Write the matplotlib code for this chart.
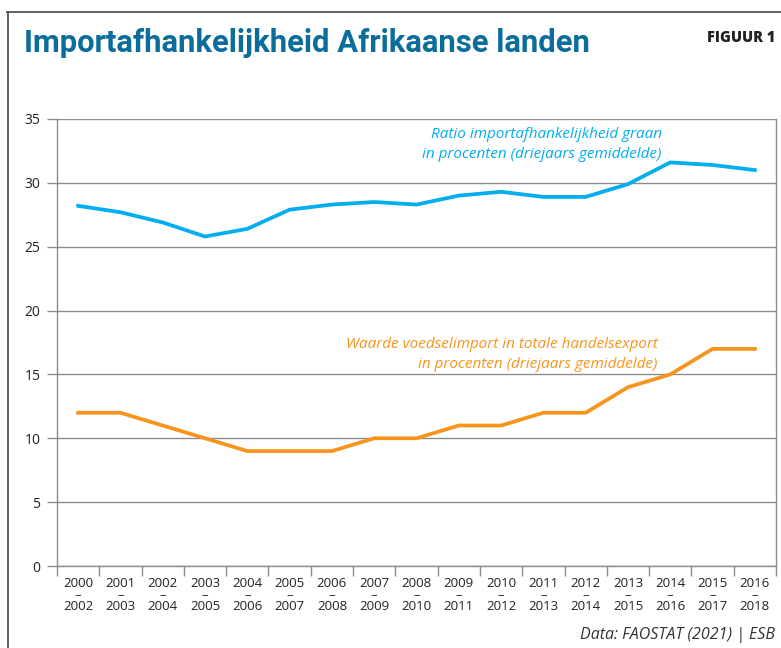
import matplotlib
matplotlib.use("Agg")
import matplotlib.pyplot as plt
from matplotlib.lines import Line2D

periods = ["2000\n–\n2002", "2001\n–\n2003", "2002\n–\n2004", "2003\n–\n2005", "2004\n–\n2006",
           "2005\n–\n2007", "2006\n–\n2008", "2007\n–\n2009", "2008\n–\n2010", "2009\n–\n2011",
           "2010\n–\n2012", "2011\n–\n2013", "2012\n–\n2014", "2013\n–\n2015", "2014\n–\n2016",
           "2015\n–\n2017", "2016\n–\n2018"]
graan = [28.2, 27.7, 26.9, 25.8, 26.4, 27.9, 28.3, 28.5, 28.3, 29.0, 29.3, 28.9, 28.9, 29.9, 31.6, 31.4, 31.0]
voedsel = [12, 12, 11, 10, 9, 9, 9, 10, 10, 11, 11, 12, 12, 14, 15, 17, 17]
yticks = [0, 5, 10, 15, 20, 25, 30, 35]

BLUE = "#00aeef"
ORANGE = "#f7941d"
TITLE = "#0a6d9c"
GRID = "#8c8c8c"

plt.rcParams['font.family'] = ['Open Sans', 'DejaVu Sans']

W, H = 781, 648
fig = plt.figure(figsize=(W/100, H/100), dpi=100)
ax = fig.add_axes([57/W, 1-566/H, (776-57)/W, (566-119)/H])

x = list(range(len(periods)))
ax.plot(x, graan, color=BLUE, lw=2.7, solid_joinstyle='miter', zorder=3)
ax.plot(x, voedsel, color=ORANGE, lw=2.7, solid_joinstyle='miter', zorder=3)

ax.set_xlim(-0.5, len(periods)-0.5)
ax.set_ylim(0, 35)
ax.set_yticks(yticks)
ax.set_yticklabels([str(v) for v in yticks], fontsize=10, color="#222222")
ax.yaxis.grid(True, color=GRID, lw=1)
ax.set_axisbelow(True)
ax.tick_params(axis='y', length=7, width=1, color=GRID, pad=5)

ax.set_xticks([i + 0.5 for i in range(-1, len(periods))])
ax.set_xticklabels([])
ax.tick_params(axis='x', length=7, width=1, color=GRID, direction='out')
ax.set_xticks(x, minor=True)
ax.set_xticklabels(periods, minor=True, fontsize=9.5, color="#222222", linespacing=0.85)
ax.tick_params(axis='x', which='minor', length=0, pad=8)

ax.spines['top'].set_visible(False)
for s in ['left', 'right', 'bottom']:
    ax.spines[s].set_color(GRID)
    ax.spines[s].set_linewidth(1)

ax.text(16.0 - 2.2, 33.0, "Ratio importafhankelijkheid graan\nin procenten (driejaars gemiddelde)",
        color=BLUE, fontsize=11, style='italic', ha='right', va='center', linespacing=1.45)
ax.text(16.0 - 2.3, 16.55, "Waarde voedselimport in totale handelsexport\nin procenten (driejaars gemiddelde)",
        color=ORANGE, fontsize=11, style='italic', ha='right', va='center', linespacing=1.45)

fig.text(24/W, 1-52/H, "Importafhankelijkheid Afrikaanse landen", color=TITLE,
         fontsize=22.3, fontweight='bold', ha='left', va='baseline',
         family=['Roboto', 'DejaVu Sans'])
fig.text(775/W, 1-42/H, "FIGUUR 1", color="#222222", fontsize=10.5, fontweight='heavy',
         ha='right', va='baseline')
fig.text(775/W, 1-635/H, "Data: FAOSTAT (2021) | ESB", color="#333333", fontsize=11.5,
         style='italic', ha='right', va='center')

fig.add_artist(Line2D([8/W, 8/W], [0, 1-12/H], color="#555555", lw=1.3))
fig.add_artist(Line2D([7.5/W, 1], [1-12/H, 1-12/H], color="#555555", lw=1.3))

fig.savefig("out.png", dpi=100)
